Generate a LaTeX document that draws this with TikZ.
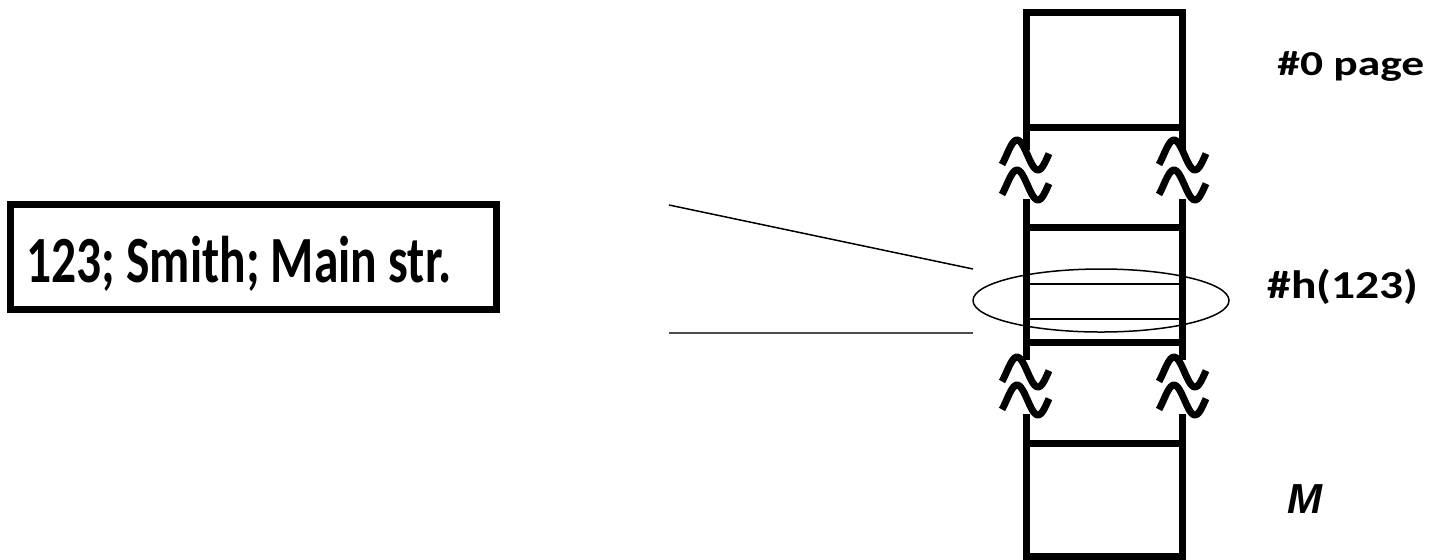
\documentclass[tikz,border=0pt]{standalone}
\usepackage{fontspec}
\setmainfont{Carlito}
\newfontfamily\arialfont{Liberation Sans}
\usepackage{graphicx}
\usetikzlibrary{shapes.geometric}

\begin{document}
\begin{tikzpicture}[x=0.5pt, y=-0.5pt,
    wall/.style={line width=3.5pt, line join=miter},
    slot/.style={line width=1.4pt},
    guide/.style={line width=0.75pt},
    pagelabel/.style={anchor=base west, inner sep=0pt, font=\bfseries}]
  \useasboundingbox (0,0) rectangle (1433,559);

  % record box
  \draw[wall] (10.5,204.5) rectangle (496.5,309.5);
  \node[anchor=base west, inner sep=0pt] (nRec) at (26,282)
    {\scalebox{0.75}[1]{\fontsize{33}{40}\selectfont\bfseries 123; Smith; Main str.}};

  % page column
  \draw[wall] (1026,150) -- (1026,12.5) -- (1182.7,12.5) -- (1182.7,150);
  \draw[wall] (1026,127) -- (1182.7,127);
  \draw[wall] (1026,199) -- (1026,360);
  \draw[wall] (1182.7,199) -- (1182.7,360);
  \draw[wall] (1026,227) -- (1182.7,227);
  \draw[wall] (1026,342) -- (1182.7,342);
  \draw[wall] (1026,414) -- (1026,556.5) -- (1182.7,556.5) -- (1182.7,414);
  \draw[wall] (1026,443) -- (1182.7,443);

  % record slot
  \draw[slot] (1026,284) -- (1182.7,284);
  \draw[slot] (1026,319) -- (1182.7,319);
  \node[draw, ellipse, minimum width=128pt, minimum height=31.5pt, inner sep=0pt, line width=0.75pt] (nSlot) at (1101,300.5) {};

  % breaks
  \foreach \bx in {1025,1182}
    \foreach \by in {155,185,372,400}
      \draw[wall, line join=round, shift={(\bx,\by)}]
        plot[domain=-23:24, samples=40, smooth] (\x, {-15*cos(8.6*(\x+8))});

  % guide lines
  \coordinate (cTop) at (669,205);
  \coordinate (cBot) at (669,333);
  \coordinate (cSlotTop) at (973,269);
  \coordinate (cSlotBot) at (973,333);
  \draw[guide] (cTop) -- (cSlotTop);
  \draw[guide, black!70] (cBot) -- (cSlotBot);

  % labels
  \node[pagelabel] (nPage0) at (1277,75)
    {\scalebox{1.3}[1]{\fontsize{17.5}{20}\selectfont\bfseries \#0 page}};
  \node[pagelabel] (nHash) at (1267,298)
    {\scalebox{1.2}[1]{\fontsize{19.8}{23}\selectfont\bfseries \#h(123)}};
  \node[pagelabel] (nM) at (1287,513)
    {\fontsize{21}{25}\selectfont\arialfont\bfseries\itshape M};
\end{tikzpicture}
\end{document}
